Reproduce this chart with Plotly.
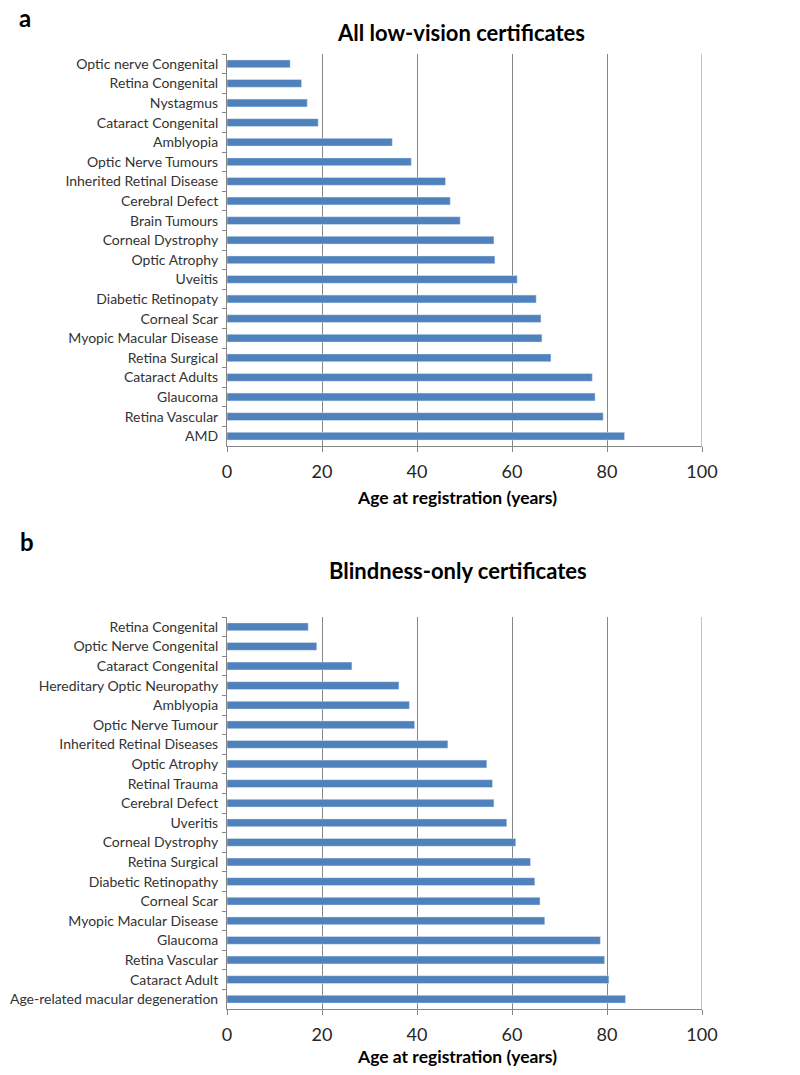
import plotly.graph_objects as go
from plotly.subplots import make_subplots

# panel a: all low-vision certificates (top to bottom)
cats_a = ["Optic nerve Congenital", "Retina Congenital", "Nystagmus", "Cataract Congenital",
          "Amblyopia", "Optic Nerve Tumours", "Inherited Retinal Disease", "Cerebral Defect",
          "Brain Tumours", "Corneal Dystrophy", "Optic Atrophy", "Uveitis",
          "Diabetic Retinopaty", "Corneal Scar", "Myopic Macular Disease", "Retina Surgical",
          "Cataract Adults", "Glaucoma", "Retina Vascular", "AMD"]
age_a = [13.3, 15.7, 16.9, 19.2, 34.8, 38.8, 46.0, 47.0, 49.1, 56.2,
         56.4, 61.1, 65.1, 66.1, 66.3, 68.2, 76.9, 77.5, 79.2, 83.7]

# panel b: blindness-only certificates (top to bottom)
cats_b = ["Retina Congenital", "Optic Nerve Congenital", "Cataract Congenital",
          "Hereditary Optic Neuropathy", "Amblyopia", "Optic Nerve Tumour",
          "Inherited Retinal Diseases", "Optic Atrophy", "Retinal Trauma", "Cerebral Defect",
          "Uveritis", "Corneal Dystrophy", "Retina Surgical", "Diabetic Retinopathy",
          "Corneal Scar", "Myopic Macular Disease", "Glaucoma", "Retina Vascular",
          "Cataract Adult", "Age-related macular degeneration"]
age_b = [17.1, 18.9, 26.3, 36.2, 38.4, 39.5, 46.5, 54.7, 55.9, 56.2,
         58.9, 60.8, 63.9, 64.8, 65.9, 66.9, 78.6, 79.5, 80.4, 83.9]

x_ticks = [0, 20, 40, 60, 80, 100]

BAR = "#4F81BD"
GRID = "#868686"
FONT = "Lato"

fig = make_subplots(rows=2, cols=1)

fig.add_trace(go.Bar(y=cats_a, x=age_a, orientation="h", marker_color=BAR,
                     showlegend=False), row=1, col=1)
fig.add_trace(go.Bar(y=cats_b, x=age_b, orientation="h", marker_color=BAR,
                     showlegend=False), row=2, col=1)

xdom = [227 / 800, 702 / 800]
ydoms = [[1 - 446 / 1075, 1 - 54 / 1075], [1 - 1009 / 1075, 1 - 617 / 1075]]

for i, dom in enumerate(ydoms, start=1):
    fig.update_xaxes(domain=xdom, range=[0, 100], tickvals=x_ticks,
                     showgrid=True, gridcolor=GRID, gridwidth=1,
                     showline=True, linecolor=GRID, linewidth=1,
                     ticks="outside", ticklen=5, tickcolor=GRID,
                     ticklabelstandoff=4, automargin=False,
                     tickfont=dict(family=FONT, size=18, color="#262626"),
                     zeroline=False, fixedrange=True, row=i, col=1)
    fig.update_yaxes(domain=dom, autorange="reversed", type="category",
                     showline=True, linecolor=GRID, linewidth=1,
                     ticks="outside", ticklen=4, tickcolor=GRID, tickson="boundaries",
                     ticklabelstandoff=5, automargin=False,
                     tickfont=dict(family=FONT, size=14, color="#333333"),
                     showgrid=False, fixedrange=True, row=i, col=1)

# right-hand frame line at x = 100, as in the original
for i in (1, 2):
    fig.add_vline(x=100, line_color=GRID, line_width=1, row=i, col=1)

fig.update_layout(
    width=800, height=1075,
    margin=dict(l=0, r=0, t=0, b=0, autoexpand=False),
    paper_bgcolor="white", plot_bgcolor="white",
    bargap=0.6,
    font=dict(family=FONT),
)

ann = [
    ("<b>a</b>", 25, 17, 24),
    ("<b>All low-vision certificates</b>", 461, 33, 22),
    ("<b>Age at registration (years)</b>", 457, 497, 17.5),
    ("<b>b</b>", 27, 541, 24),
    ("<b>Blindness-only certificates</b>", 458, 570, 22),
    ("<b>Age at registration (years)</b>", 457, 1056, 17.5),
]
for text, px, py, size in ann:
    fig.add_annotation(text=text, x=px / 800, y=1 - py / 1075, xref="paper", yref="paper",
                       showarrow=False, xanchor="center", yanchor="middle",
                       font=dict(family=FONT, size=size, color="black"))

fig.write_html("out.html", config={"displayModeBar": False},
               post_script="document.body.style.margin = '0';")
